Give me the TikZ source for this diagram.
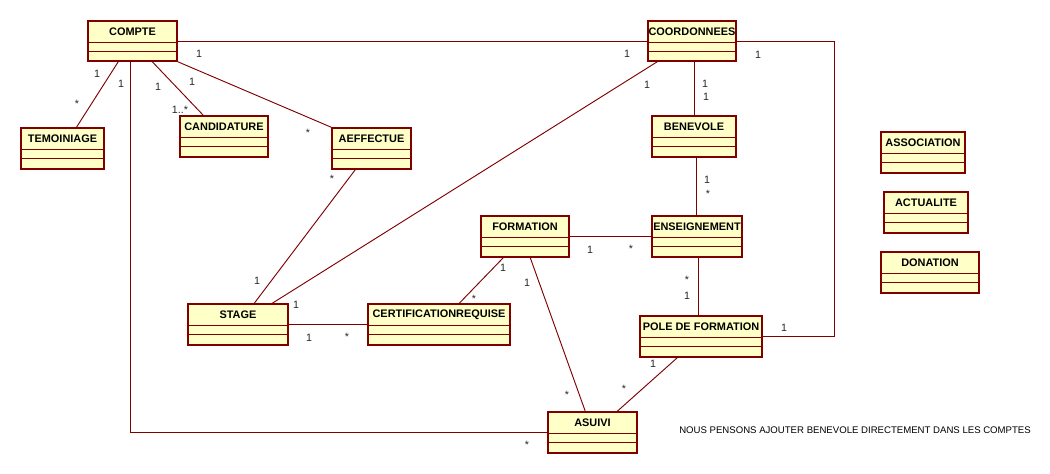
\documentclass[tikz,border=0pt]{standalone}
\usepackage{fontspec}
\setmainfont{Liberation Sans}
\usetikzlibrary{fit,calc}
\definecolor{umlline}{RGB}{128,0,0}
\definecolor{umlfill}{RGB}{255,255,200}
\tikzset{
  clsbox/.style={draw=umlline, fill=umlfill, line width=1.1pt, inner sep=0pt, rectangle},
  clstitle/.style={font=\bfseries\fontsize{8.2}{9}\selectfont, inner sep=0pt, text=black},
  sepline/.style={draw=umlline, line width=1.1pt},
  assoc/.style={draw=umlline, line width=0.7pt},
  mult/.style={font=\fontsize{8}{9}\selectfont, inner sep=0pt, text=black!85},
  notetext/.style={font=\fontsize{7.2}{9}\selectfont, inner sep=0pt, text=black, anchor=west}
}
\newcommand{\umlclass}[6]{%
  \node[clsbox, fit={(#2,#3) (#4,#5)}] (#1) {};
  \node[clstitle] (#1-title) at ($(#1.north)+(0,11)$) {#6};
  \draw[sepline] ($(#1.north west)+(0,22)$) -- ($(#1.north east)+(0,22)$);
  \draw[sepline] ($(#1.north west)+(0,31)$) -- ($(#1.north east)+(0,31)$);
}
\begin{document}
\begin{tikzpicture}[x=0.75pt, y=-0.75pt]
\useasboundingbox[fill=white] (0,0) rectangle (1050,474);

\umlclass{compte}{88}{21}{177}{61}{COMPTE}
\umlclass{temo}{21}{128}{104}{169}{TEMOINIAGE}
\umlclass{cand}{180}{116}{268}{157}{CANDIDATURE}
\umlclass{aeff}{332}{128}{411}{169}{AEFFECTUE}
\umlclass{coord}{648}{21}{736}{61}{COORDONNEES}
\umlclass{ben}{652}{116}{736}{157}{BENEVOLE}
\umlclass{form}{481}{216}{569}{257}{FORMATION}
\umlclass{ens}{652}{216}{742}{257}{ENSEIGNEMENT}
\umlclass{stage}{188}{304}{288}{345}{STAGE}
\umlclass{cert}{368}{304}{510}{345}{CERTIFICATIONREQUISE}
\umlclass{pole}{640}{316}{762}{357}{POLE DE FORMATION}
\umlclass{asuivi}{548}{412}{637}{453}{ASUIVI}
\umlclass{assoc}{881}{132}{965}{173}{ASSOCIATION}
\umlclass{actu}{884}{192}{968}{233}{ACTUALITE}
\umlclass{don}{881}{252}{979}{293}{DONATION}

% connectors
\draw[assoc] (compte.east) -- (coord.west);
\draw[assoc] ($(compte.south west)+(31,0)$) -- ($(temo.north)+(14,0)$);
\draw[assoc] ($(compte.south west)+(43,0)$) |- (asuivi.west);
\draw[assoc] ($(compte.south west)+(65,0)$) -- ($(cand.north west)+(24,0)$);
\draw[assoc] (compte.south east) -- (aeff.north west);
\draw[assoc] ($(aeff.south west)+(24,0)$) -- ($(stage.north west)+(67,0)$);
\draw[assoc] ($(coord.south west)+(10,0)$) -- ($(stage.north west)+(85,0)$);
\draw[assoc] (ben.north) -- (ben.north |- coord.south);
\draw[assoc] ($(ben.south)+(2,0)$) -- ($(ens.north)+(-1,0)$);
\draw[assoc] (form.east) -- (ens.west);
\draw[assoc] ($(ens.south)+(1,0)$) -- ($(pole.north)+(-3,0)$);
\draw[assoc] ($(form.south west)+(23,0)$) -- ($(cert.north west)+(92,0)$);
\draw[assoc] ($(form.south west)+(50,0)$) -- ($(asuivi.north west)+(38,0)$);
\draw[assoc] ($(pole.south west)+(38,0)$) -- ($(asuivi.north west)+(70,0)$);
\draw[assoc] (stage.east) -- (cert.west);
\draw[assoc] (coord.east) -| ($(pole.east)+(72,0)$) -- (pole.east);

% multiplicities
\node[mult] (m1) at (199,54) {1};
\node[mult] (m2) at (97,74) {1};
\node[mult] (m3) at (121,84) {1};
\node[mult] (m4) at (158,87) {1};
\node[mult] (m5) at (192,82) {1};
\node[mult] (m6) at (77,104) {*};
\node[mult] (m7) at (180,110) {1..*};
\node[mult] (m8) at (308,133) {*};
\node[mult] (m9) at (332,179) {*};
\node[mult] (m10) at (627,54) {1};
\node[mult] (m11) at (758,55) {1};
\node[mult] (m12) at (647,85) {1};
\node[mult] (m13) at (705,84) {1};
\node[mult] (m14) at (706,97) {1};
\node[mult] (m15) at (707,180) {1};
\node[mult] (m16) at (708,194) {*};
\node[mult] (m17) at (257,281) {1};
\node[mult] (m18) at (296,305) {1};
\node[mult] (m19) at (309,338) {1};
\node[mult] (m20) at (347,337) {*};
\node[mult] (m21) at (503,268) {1};
\node[mult] (m22) at (474,299) {*};
\node[mult] (m23) at (527,283) {1};
\node[mult] (m24) at (590,250) {1};
\node[mult] (m25) at (631,249) {*};
\node[mult] (m26) at (687,280) {*};
\node[mult] (m27) at (687,296) {1};
\node[mult] (m28) at (784,328) {1};
\node[mult] (m29) at (653,364) {1};
\node[mult] (m30) at (624,389) {*};
\node[mult] (m31) at (567,395) {*};
\node[mult] (m32) at (527,445) {*};

\node[notetext] (note) at (679,430) {NOUS PENSONS AJOUTER BENEVOLE DIRECTEMENT DANS LES COMPTES};
\end{tikzpicture}
\end{document}
